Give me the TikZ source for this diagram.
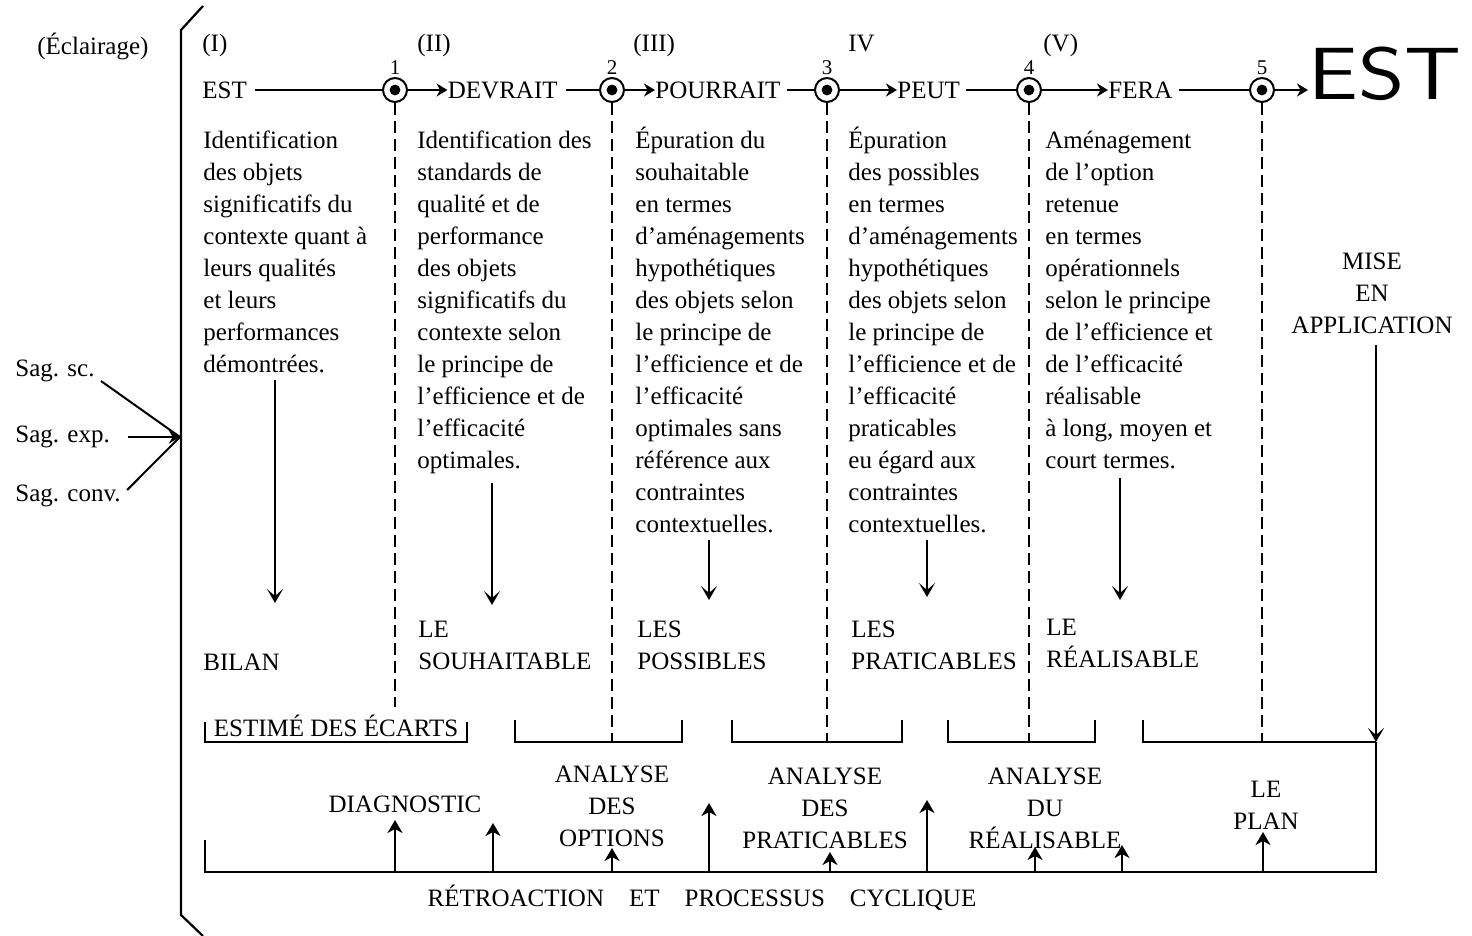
\documentclass[tikz,border=0pt]{standalone}
\usepackage{fontspec}
\setmainfont{Liberation Serif}
\usepackage{tikz}
\usetikzlibrary{arrows.meta,positioning}
\newcommand{\txtsize}{\fontsize{12.5}{16}\selectfont}
\newcommand{\numsize}{\fontsize{10.5}{12}\selectfont}
\tikzset{txt/.style={font=\txtsize,inner sep=0pt},col/.style={txt,align=left,anchor=north west},centre/.style={txt,align=center,anchor=north},mot/.style={txt,anchor=west},nombre/.style={font=\numsize,inner sep=1pt},rond/.style={circle,draw,line width=1pt,minimum size=12pt,inner sep=0pt,path picture={\fill (path picture bounding box.center) circle (2.7pt);}},lien/.style={line width=1pt},fl/.style={lien,-{Stealth[length=5.5pt,width=6.5pt]}},bas/.style={lien,-{Stealth[length=7pt,width=8pt,inset=3.5pt]}},haut/.style={lien,-{Stealth[length=6.5pt,width=7.5pt,inset=2pt]}},tiret/.style={line width=0.8pt,dash pattern=on 6pt off 3pt},cadre/.style={line width=1.1pt}}

\begin{document}
\begin{tikzpicture}[x=0.5pt,y=-0.5pt]
\fill[white] (0,0) rectangle (1472,936);
\useasboundingbox (0,0) rectangle (1472,936);
% cote gauche
\draw[cadre] (203,6) -- (181,30) -- (181,915) -- (203,936);
\node[txt,anchor=base west] (ecl) at (37,55) {(Éclairage)};
\node[mot] (sagsc) at (15,371) {Sag. sc.};
\node[mot] (sagexp) at (15,437) {Sag. exp.};
\node[mot] (sagconv) at (15,496) {Sag. conv.};
\coordinate (sag) at (180,437);
\draw[lien] ([shift={(6,10)}]sagsc.east) -- (sag);
\draw[fl] ([xshift=9pt]sagexp.east) -- (sag);
\draw[lien] ([shift={(6,-6)}]sagconv.east) -- (sag);
% etapes
\node[txt,anchor=base west] (r1) at (202,52) {(I)};
\node[txt,anchor=base west] (r2) at (417,52) {(II)};
\node[txt,anchor=base west] (r3) at (633,52) {(III)};
\node[txt,anchor=base west] (r4) at (848,52) {IV};
\node[txt,anchor=base west] (r5) at (1043,52) {(V)};
\node[mot] (est) at (202,90) {EST};
\node[rond,label={[nombre]above:1}] (c1) at (395,90) {};
\node[mot,anchor=east] (devrait) at (558,90) {DEVRAIT};
\node[rond,label={[nombre]above:2}] (c2) at (612,90) {};
\node[mot] (pourrait) at (655,90) {POURRAIT};
\node[rond,label={[nombre]above:3}] (c3) at (827,90) {};
\node[mot] (peut) at (897,90) {PEUT};
\node[rond,label={[nombre]above:4}] (c4) at (1029,90) {};
\node[mot] (fera) at (1108,90) {FERA};
\node[rond,label={[nombre]above:5}] (c5) at (1262,90) {};
\node[inner sep=0pt,anchor=west,font=\fontsize{37}{40}\sffamily] (estfin) at (1308,74) {\scalebox{1.2}[1]{EST}};
\draw[lien] ([xshift=4pt]est.east) -- (c1);
\draw[fl] (c1) -- (devrait);
\draw[lien] ([xshift=4pt]devrait.east) -- (c2);
\draw[fl] (c2) -- (pourrait);
\draw[lien] ([xshift=3pt]pourrait.east) -- (c3);
\draw[fl] (c3) -- (peut);
\draw[lien] ([xshift=3pt]peut.east) -- (c4);
\draw[fl] (c4) -- (fera);
\draw[lien] ([xshift=3pt]fera.east) -- (c5);
\draw[fl] (c5) -- (c5 -| estfin.west);
% colonnes
\node[col] (t1) at (203,126) {\strut Identification\\des objets\\significatifs du\\contexte quant à\\leurs qualités\\et leurs\\performances\\démontrées.};
\node[col] (t2) at (417,126) {\strut Identification des\\standards de\\qualité et de\\performance\\des objets\\significatifs du\\contexte selon\\le principe de\\l'efficience et de\\l'efficacité\\optimales.};
\node[col] (t3) at (635,126) {\strut Épuration du\\souhaitable\\en termes\\d'aménagements\\hypothétiques\\des objets selon\\le principe de\\l'efficience et de\\l'efficacité\\optimales sans\\référence aux\\contraintes\\contextuelles.};
\node[col] (t4) at (848,126) {\strut Épuration\\des possibles\\en termes\\d'aménagements\\hypothétiques\\des objets selon\\le principe de\\l'efficience et de\\l'efficacité\\praticables\\eu égard aux\\contraintes\\contextuelles.};
\node[col] (t5) at (1045,126) {\strut Aménagement\\de l'option\\retenue\\en termes\\opérationnels\\selon le principe\\de l'efficience et\\de l'efficacité\\réalisable\\à long, moyen et\\court termes.};
% fleches vers les produits
\foreach \x/\a/\b [count=\i] in {275/380/603,492/483/605,709/540/600,927/540/597,1120/478/600}{
  \coordinate (h\i) at (\x,\a);
  \coordinate (b\i) at (\x,\b);
  \draw[bas] (h\i) -- (b\i);
}
\node[txt,anchor=base west] (bilan) at (203,670) {BILAN};
\node[col] (souh) at (418,615) {\strut LE\\SOUHAITABLE};
\node[col] (poss) at (637,615) {\strut LES\\POSSIBLES};
\node[col] (prat) at (851,615) {\strut LES\\PRATICABLES};
\node[col] (real) at (1046,613) {\strut LE\\RÉALISABLE};
\node[centre] (mise) at (1372,247) {\strut MISE\\EN\\APPLICATION};
% ecarts
\node[txt,anchor=base] (ecarts) at (336,736) {ESTIMÉ DES ÉCARTS};
\draw[cadre] (205,722) |- (467,742) -- (467,722);
\foreach \g/\d in {515/682,732/902,948/1095}
  \draw[cadre] (\g,720) |- (\d,742) -- (\d,720);
\draw[cadre] (1143,720) |- (1376,742);
\coordinate (d1) at (395,707);
\coordinate (d2) at (612,742);
\coordinate (d3) at (827,742);
\coordinate (d4) at (1029,742);
\coordinate (d5) at (1262,742);
\foreach \i in {1,...,5}
  \draw[tiret] (c\i) -- (d\i);
\coordinate (m0) at (1376,345);
\coordinate (m1) at (1376,742);
\draw[bas] (m0) -- (m1);
% retroaction
\coordinate (r0) at (205,840);
\coordinate (rf) at (1376,872);
\draw[cadre] (r0) |- (rf) -- (m1);
\node[txt,anchor=base] (diag) at (405,812) {DIAGNOSTIC};
\node[centre] (aopt) at (612,760) {\strut ANALYSE\\DES\\OPTIONS};
\node[centre] (aprat) at (825,762) {\strut ANALYSE\\DES\\PRATICABLES};
\node[centre] (areal) at (1045,762) {\strut ANALYSE\\DU\\RÉALISABLE};
\node[centre] (plan) at (1266,775) {\strut LE\\PLAN};
\foreach \x/\t [count=\i] in {395/820,493/823,612/848,709/803,830/852,927/800,1035/847,1122/845,1263/832}{
  \coordinate (u\i) at (\x,872);
  \coordinate (v\i) at (\x,\t);
  \draw[haut] (u\i) -- (v\i);
}
\node[txt,anchor=base] (retro) at (702,906) {RÉTROACTION\quad ET\quad PROCESSUS\quad CYCLIQUE};
\end{tikzpicture}
\end{document}
